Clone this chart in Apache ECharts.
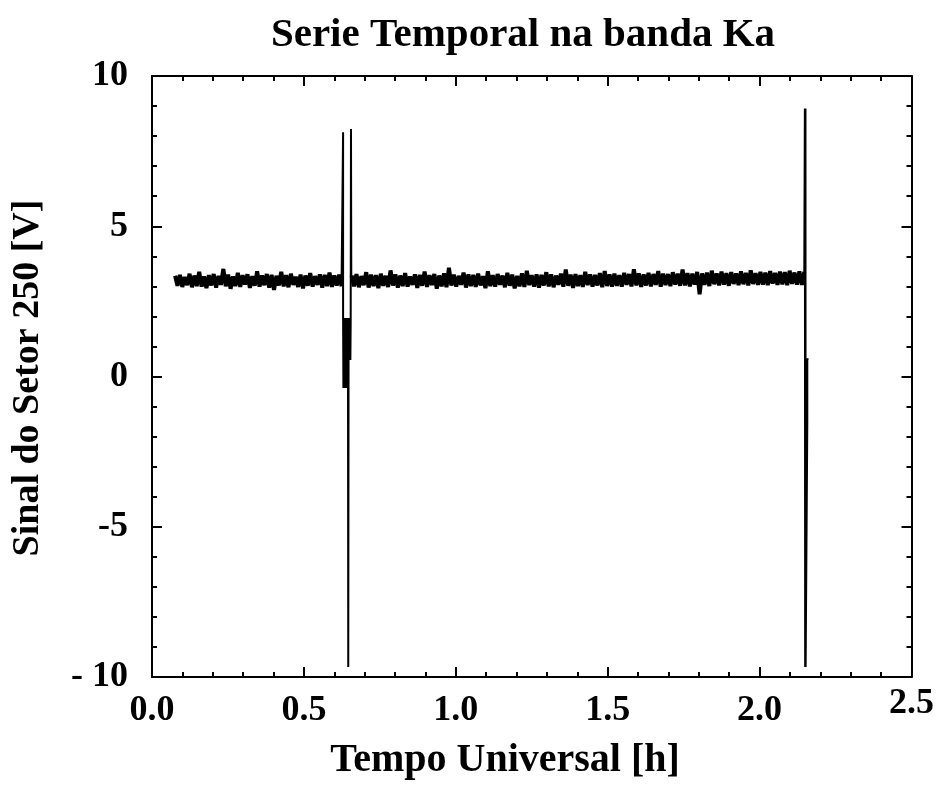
<!DOCTYPE html>
<html>
<head>
<meta charset="utf-8">
<script src="https://cdn.jsdelivr.net/npm/echarts@6/dist/echarts.min.js"></script>
<style>html,body{margin:0;padding:0;background:#fff;}#c{width:937px;height:785px;}</style>
</head>
<body>
<div id="c"></div>
<script>
// ---- data ----
var titleText = 'Serie Temporal na banda Ka';
var xTitle = 'Tempo Universal [h]';
var yTitle = 'Sinal do Setor 250 [V]';
var xTicks = [0.0, 0.5, 1.0, 1.5, 2.0, 2.5];
var yTicks = [-10, -5, 0, 5, 10];
var raisedXLabel = 2.5;   // this tick label sits a little higher in the original

// noise segment before first spike (time span 0.076 - 0.624 h)
var seg1Start = 0.076, seg1End = 0.624;
var seg1Values = [
  3.35,3.02,3.38,2.98,3.31,3.04,3.42,2.97,3.36,3.01,
  3.48,2.99,3.33,2.94,3.37,3.03,3.41,2.96,3.35,3.05,
  3.58,3.00,3.39,2.92,3.33,3.01,3.45,2.98,3.37,3.06,
  3.40,2.95,3.34,3.02,3.50,2.99,3.36,3.04,3.41,2.96,
  3.38,2.88,3.35,3.03,3.48,3.00,3.37,2.97,3.42,3.05,
  3.32,2.98,3.39,2.93,3.36,3.02,3.44,2.99,3.34,3.05,
  3.40,2.96,3.38,3.01,3.46,2.98,3.36,3.03,3.39,3.00];

// noise segment between spikes (time span 0.657 - 2.147 h)
var seg2Start = 0.657, seg2End = 2.147;
var seg2Values = [
  3.36,3.00,3.41,2.97,3.34,3.04,3.47,2.96,3.39,3.01,
  3.37,2.94,3.42,3.02,3.35,2.98,3.53,3.03,3.40,2.96,
  3.36,3.01,3.44,2.99,3.33,3.05,3.40,2.95,3.38,3.02,
  3.49,2.98,3.37,3.04,3.41,2.92,3.36,3.00,3.43,2.97,
  3.62,3.03,3.39,2.99,3.35,3.05,3.46,2.96,3.40,3.01,
  3.38,2.98,3.42,3.03,3.34,2.94,3.50,3.01,3.37,2.99,
  3.41,3.05,3.36,2.97,3.45,3.02,3.39,2.93,3.35,3.00,
  3.43,2.98,3.52,3.04,3.37,2.99,3.40,2.96,3.38,3.03,
  3.47,3.00,3.40,2.97,3.36,3.05,3.42,2.99,3.56,3.02,
  3.39,2.95,3.41,3.01,3.37,2.98,3.48,3.04,3.40,2.99,
  3.38,3.03,3.44,2.97,3.51,3.01,3.40,2.99,3.42,3.02,
  3.37,2.99,3.45,3.05,3.41,3.00,3.57,3.03,3.43,2.98,
  3.40,3.03,3.45,3.00,3.41,3.05,3.51,2.99,3.42,3.04,
  3.41,3.01,3.47,3.06,3.42,3.02,3.56,3.03,3.44,3.00,
  3.42,3.06,3.48,2.74,3.43,3.05,3.46,3.01,3.52,3.07,
  3.43,3.03,3.49,3.06,3.44,3.02,3.47,3.08,3.43,3.04,
  3.50,3.07,3.45,3.03,3.53,3.08,3.44,3.05,3.48,3.06,
  3.46,3.04,3.51,3.09,3.45,3.05,3.49,3.07,3.47,3.04,
  3.52,3.08,3.46,3.06,3.50,3.05,3.48];

// first spike region [time h, signal V]
var spike1 = [[0.624,3.10],[0.629,8.13],[0.629,1.95],[0.630,-0.38],[0.631,1.95],[0.632,-0.38],[0.633,1.95],
  [0.634,-0.38],[0.635,1.90],[0.636,-0.38],[0.637,1.95],[0.638,-0.30],[0.639,1.90],[0.640,-0.38],[0.641,1.95],
  [0.642,-0.35],[0.643,1.90],[0.644,-0.38],[0.645,1.95],[0.646,-9.67],[0.647,0.55],[0.648,1.90],[0.649,0.55],
  [0.650,1.95],[0.651,0.55],[0.652,1.90],[0.653,0.55],[0.654,1.80],[0.655,8.24],[0.656,3.20],[0.657,3.30]];

// second spike region [time h, signal V]
var spike2 = [[2.147,3.30],[2.149,8.92],[2.150,-9.67],[2.151,8.92],[2.1515,-9.67],[2.157,-1.55],[2.157,0.60],[2.159,0.55]];

// ---- build series from the arrays ----
function seg(start, end, vals) {
  var out = [], n = vals.length;
  for (var i = 0; i < n; i++) out.push([start + (end - start) * i / (n - 1), vals[i]]);
  return out;
}
var noise1 = seg(seg1Start, seg1End, seg1Values);
var noise2 = seg(seg2Start, seg2End, seg2Values);

var font = '"Liberation Serif", "Times New Roman", serif';
var black = '#000';

function axisCommon(pos, showLabel, isX) {
  return {
    type: 'value',
    position: pos,
    min: isX ? xTicks[0] : yTicks[0],
    max: isX ? xTicks[xTicks.length - 1] : yTicks[yTicks.length - 1],
    interval: isX ? 0.5 : 5,
    axisLine: { show: true, onZero: false, lineStyle: { color: black, width: 2 } },
    axisTick: { show: true, inside: true, length: 10, lineStyle: { color: black, width: 2 } },
    minorTick: { show: true, splitNumber: 5, length: 5, lineStyle: { color: black, width: 2 } },
    splitLine: { show: false },
    minorSplitLine: { show: false },
    axisLabel: {
      show: showLabel,
      color: black,
      fontFamily: font,
      fontWeight: 'bold',
      fontSize: 36,
      margin: isX ? 16 : 24,
      showMinLabel: true,
      showMaxLabel: true,
      formatter: isX ? function (v) { return v === raisedXLabel ? '' : v.toFixed(1); }
                     : function (v) { return v === -10 ? '- 10' : String(v); }
    }
  };
}

// helper axis that only carries the raised tick label
var raisedAxis = axisCommon('bottom', true, true);
raisedAxis.axisLine = { show: false, onZero: false };
raisedAxis.axisTick = { show: false };
raisedAxis.minorTick = { show: false };
raisedAxis.axisLabel.margin = 9;
raisedAxis.axisLabel.formatter = function (v) { return v === raisedXLabel ? v.toFixed(1) : ''; };

var chart = echarts.init(document.getElementById('c'), null, { renderer: 'canvas' });
chart.setOption({
  animation: false,
  backgroundColor: '#fff',
  grid: { left: 152, right: 25, top: 76, bottom: 108, containLabel: false },
  xAxis: [axisCommon('bottom', true, true), axisCommon('top', false, true), raisedAxis],
  yAxis: [axisCommon('left', true, false), axisCommon('right', false, false)],
  graphic: [
    { type: 'text', x: 523, y: 35, style: { text: titleText, font: 'bold 41px ' + font, fill: black, textAlign: 'center', textVerticalAlign: 'middle' } },
    { type: 'text', x: 505, y: 761, style: { text: xTitle, font: 'bold 40px ' + font, fill: black, textAlign: 'center', textVerticalAlign: 'middle' } },
    { type: 'text', x: 28, y: 378, rotation: Math.PI / 2, style: { text: yTitle, font: 'bold 38px ' + font, fill: black, textAlign: 'center', textVerticalAlign: 'middle' } }
  ],
  series: [
    { type: 'line', data: noise1, showSymbol: false, symbol: 'none', lineStyle: { color: black, width: 4, join: 'bevel' }, silent: true },
    { type: 'line', data: spike1, showSymbol: false, symbol: 'none', lineStyle: { color: black, width: 2 }, silent: true },
    { type: 'line', data: noise2, showSymbol: false, symbol: 'none', lineStyle: { color: black, width: 4, join: 'bevel' }, silent: true },
    { type: 'line', data: spike2, showSymbol: false, symbol: 'none', lineStyle: { color: black, width: 2 }, silent: true }
  ]
});
</script>
</body>
</html>
